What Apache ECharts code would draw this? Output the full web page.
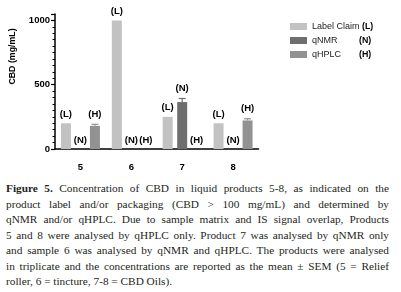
<!DOCTYPE html>
<html>
<head>
<meta charset="utf-8">
<script src="https://cdn.jsdelivr.net/npm/echarts@6/dist/echarts.min.js"></script>
<style>
  html, body { margin: 0; padding: 0; background: #fff; }
  #main { position: absolute; left: 0; top: 0; width: 401px; height: 178px; }
  #caption { position: absolute; left: 6px; top: 181px; width: 383px;
             font-family: "Liberation Serif", "DejaVu Serif", serif; font-size: 11.3px;
             line-height: 15.5px; color: #231f20; }
  #caption div { text-align: justify; text-align-last: justify; white-space: nowrap; }
  #caption div.last { text-align-last: left; }
  #caption b { font-weight: bold; }
</style>
</head>
<body>
<div id="main"></div>
<div id="caption"></div>
<script>
var products = ['5', '6', '7', '8'];
var labelClaim = [200, 1000, 250, 200];
var qNMR = [0, 0, 365, 0];
var qHPLC = [180, 0, 0, 222];
var qNMRSem = [0, 0, 28, 0];
var qHPLCSem = [12, 0, 0, 13];
var yTicks = [0, 500, 1000];
var captionLines = [
    '<b>Figure 5.</b> Concentration of CBD in liquid products 5-8, as indicated on the',
    'product label and/or packaging (CBD &gt; 100 mg/mL) and determined by',
    'qNMR and/or qHPLC. Due to sample matrix and IS signal overlap, Products',
    '5 and 8 were analysed by qHPLC only. Product 7 was analysed by qNMR only',
    'and sample 6 was analysed by qNMR and qHPLC. The products were analysed',
    'in triplicate and the concentrations are reported as the mean ± SEM (5 = Relief',
    'roller, 6 = tincture, 7-8 = CBD Oils).'
];

document.getElementById('caption').innerHTML = captionLines.map(function (l, i) {
    return '<div' + (i === captionLines.length - 1 ? ' class="last"' : '') + '>' + l + '</div>';
}).join('');

var FONT = 'Liberation Sans';
var colL = '#c2c2c2', colN = '#6e6e6e', colH = '#929292';

function barLabel(text) {
    return {
        show: true, position: 'top', distance: 4,
        formatter: text, color: '#000', fontFamily: FONT, fontWeight: 'bold', fontSize: 9.5
    };
}

function withLabelGap(values, sems) {
    // bars carrying an error bar get their label pushed above the cap
    return values.map(function (v, i) {
        if (sems[i] > 0) {
            return { value: v, label: { distance: 4 + sems[i] * 0.1286 + 1 } };
        }
        return v;
    });
}

function errorSeries(values, sems, offset, color) {
    var data = values.map(function (v, i) { return [i, v, sems[i]]; })
        .filter(function (d) { return d[2] > 0; });
    return {
        type: 'custom',
        name: 'err',
        z: 5,
        data: data,
        renderItem: function (params, api) {
            var p0 = api.coord([api.value(0), api.value(1)]);
            var p1 = api.coord([api.value(0), api.value(1) + api.value(2)]);
            var x = p0[0] + offset;
            return {
                type: 'group',
                children: [
                    { type: 'line', shape: { x1: x, y1: p0[1], x2: x, y2: p1[1] },
                      style: { stroke: color, lineWidth: 1.2 } },
                    { type: 'line', shape: { x1: x - 3.5, y1: p1[1], x2: x + 3.5, y2: p1[1] },
                      style: { stroke: color, lineWidth: 1.2 } }
                ]
            };
        }
    };
}

var myChart = echarts.init(document.getElementById('main'));
var option = {
    animation: false,
    grid: { left: 52.5, top: 14, width: 206, height: 135 },
    legend: {
        data: ['Label Claim', 'qNMR', 'qHPLC'],
        orient: 'vertical',
        left: 285, top: 17,
        itemWidth: 17, itemHeight: 7, itemGap: 5,
        icon: 'rect',
        formatter: function (name) {
            var tag = { 'Label Claim': '(L)', 'qNMR': '(N)', 'qHPLC': '(H)' }[name];
            if (name === 'Label Claim') {
                return '{w|' + name + ' }{b|' + tag + '}';
            }
            return '{n|' + name + '}{b|' + tag + '}';
        },
        textStyle: {
            rich: {
                w: { fontFamily: FONT, fontSize: 9, color: '#222' },
                n: { fontFamily: FONT, fontSize: 9, color: '#222', width: 47 },
                b: { fontFamily: FONT, fontSize: 8.8, fontWeight: 'bold', color: '#000' }
            }
        }
    },
    xAxis: {
        type: 'category',
        data: products,
        axisLine: { lineStyle: { color: '#000', width: 1.5 } },
        axisTick: { alignWithLabel: true, length: 5, lineStyle: { color: '#000', width: 1.5 } },
        axisLabel: { color: '#000', fontFamily: FONT, fontWeight: 'bold', fontSize: 9.5, margin: 13 }
    },
    yAxis: {
        type: 'value',
        min: 0, max: 1050, interval: 500,
        name: 'CBD (mg/mL)',
        nameLocation: 'middle',
        nameGap: 38,
        nameTextStyle: { color: '#000', fontFamily: FONT, fontWeight: 'bold', fontSize: 8.8, padding: [0, 0, 0, 50] },
        axisLine: { show: true, lineStyle: { color: '#000', width: 1.5 } },
        axisTick: { show: true, length: 4, lineStyle: { color: '#000', width: 1.2 } },
        minorTick: { show: true, splitNumber: 10, length: 2.5, lineStyle: { color: '#000', width: 1 } },
        splitLine: { show: false },
        axisLabel: {
            color: '#000', fontFamily: FONT, fontWeight: 'bold', fontSize: 9.5, margin: 5,
            formatter: function (v) { return yTicks.indexOf(v) >= 0 ? String(v) : ''; }
        }
    },
    series: [
        { name: 'Label Claim', type: 'bar', data: labelClaim, barWidth: 10, barGap: '45%',
          itemStyle: { color: colL }, label: barLabel('(L)') },
        { name: 'qNMR', type: 'bar', data: withLabelGap(qNMR, qNMRSem), barWidth: 10, barGap: '45%',
          itemStyle: { color: colN }, label: barLabel('(N)') },
        { name: 'qHPLC', type: 'bar', data: withLabelGap(qHPLC, qHPLCSem), barWidth: 10, barGap: '45%',
          itemStyle: { color: colH }, label: barLabel('(H)') },
        errorSeries(qNMR, qNMRSem, 0, colN),
        errorSeries(qHPLC, qHPLCSem, 14.5, colH)
    ]
};
myChart.setOption(option);
</script>
</body>
</html>
